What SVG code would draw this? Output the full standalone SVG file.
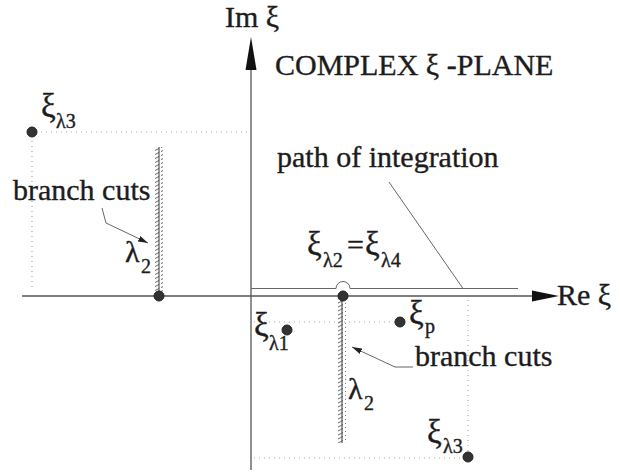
<svg xmlns="http://www.w3.org/2000/svg" width="620" height="472" viewBox="0 0 620 472">
<defs>
<style>
text{font-family:"Liberation Serif","Times New Roman",serif;fill:#1c1c1c;stroke:#1c1c1c;stroke-width:0.35;font-size:30px}
.sub{font-size:20px}
.xi{font-size:33px}
.ax{stroke:#555;stroke-width:1.3;fill:none}
.thin{stroke:#666;stroke-width:1;fill:none}
.dot{stroke:#aaa;stroke-width:1.2;stroke-dasharray:1 4;fill:none}
.pt{fill:#333;stroke:#222;stroke-width:1}
.cut{stroke:#555;stroke-width:1.2}
</style>
<pattern id="hatch" patternUnits="userSpaceOnUse" x="0" y="0" width="8" height="4">
<line x1="1" y1="3.6" x2="7" y2="0.4" stroke="#555" stroke-width="0.9"/>
</pattern>
<marker id="ah" viewBox="0 0 10 6" refX="10" refY="3" markerWidth="10" markerHeight="6" markerUnits="userSpaceOnUse" orient="auto">
<path d="M0,0 L10,3 L0,6 Z" fill="#222"/>
</marker>
</defs>

<g id="connectors">
<line class="ax" x1="251" y1="470" x2="251" y2="60"/>
<path d="M251,37 L256.5,70 L245.5,70 Z" fill="#111"/>
<line class="ax" x1="22" y1="296" x2="540" y2="296"/>
<path d="M559,296 L532,290.5 L532,301.5 Z" fill="#111"/>
<path class="thin" d="M251,288.5 H336 A7,7 0 0 1 350,288.5 H518"/>
<line class="thin" x1="389" y1="182" x2="463" y2="288.5"/>
<line class="dot" x1="36" y1="132" x2="250" y2="132"/>
<line class="dot" x1="32" y1="136" x2="32" y2="290"/>
<line class="dot" x1="254" y1="322" x2="396" y2="322"/>
<line class="dot" x1="468" y1="300" x2="468" y2="453"/>
<line class="dot" x1="254" y1="458" x2="464" y2="458"/>
<line class="cut" x1="159" y1="147" x2="159" y2="296"/>
<rect x="155" y="147" width="8" height="148" fill="url(#hatch)"/>
<line class="cut" x1="342" y1="296" x2="342" y2="443"/>
<rect x="338" y="298" width="8" height="145" fill="url(#hatch)"/>
<polyline class="thin" points="102,208 106,223 148,243" marker-end="url(#ah)"/>
<polyline class="thin" points="413,367 395,367 352,347" marker-end="url(#ah)"/>
</g>

<g id="axis-labels">
<text x="225" y="27">Im ξ</text>
<text x="557" y="305">Re ξ</text>
<text x="275" y="75">COMPLEX ξ -PLANE</text>
<text x="277" y="167">path of integration</text>
</g>

<g id="cut-left">
<circle class="pt" cx="159" cy="296" r="5"/>
<text x="13" y="200">branch cuts</text>
<text x="125" y="262">λ</text><text class="sub" x="141" y="273">2</text>
</g>

<g id="cut-right">
<text x="415" y="366">branch cuts</text>
<text x="348" y="399">λ</text><text class="sub" x="364" y="410">2</text>
</g>

<g id="xi-l3-left">
<circle class="pt" cx="32" cy="132" r="5"/>
<text class="xi" x="41" y="117">ξ</text><text class="sub" x="56" y="128">λ3</text>
</g>

<g id="xi-l2-l4">
<circle class="pt" cx="343" cy="296" r="5"/>
<text class="xi" x="307" y="255">ξ</text><text class="sub" x="323" y="267">λ2</text>
<text x="347" y="255">=</text><text class="xi" x="365" y="255">ξ</text><text class="sub" x="381" y="267">λ4</text>
</g>

<g id="xi-p">
<circle class="pt" cx="400" cy="322" r="5"/>
<text class="xi" x="409" y="324">ξ</text><text class="sub" x="425" y="333">p</text>
</g>

<g id="xi-l1">
<circle class="pt" cx="287" cy="330" r="5"/>
<text class="xi" x="254" y="336">ξ</text><text class="sub" x="269" y="350">λ1</text>
</g>

<g id="xi-l3-right">
<circle class="pt" cx="468" cy="457" r="5"/>
<text class="xi" x="427" y="443">ξ</text><text class="sub" x="443" y="453">λ3</text>
</g>
</svg>
